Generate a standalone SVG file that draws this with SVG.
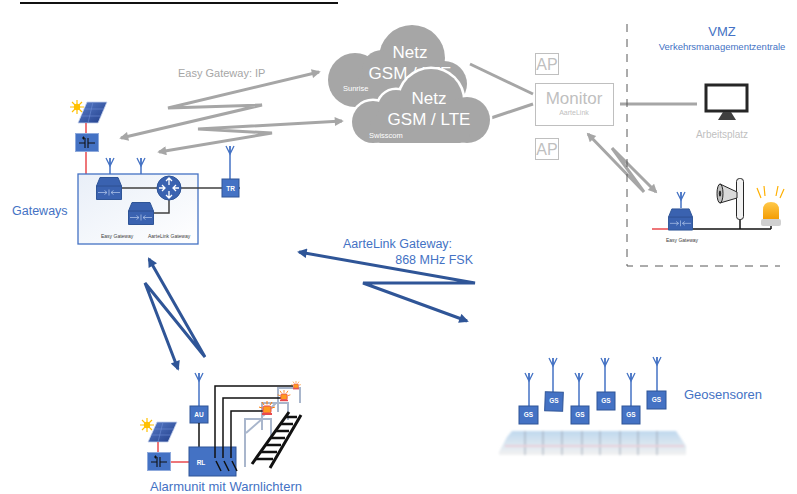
<svg xmlns="http://www.w3.org/2000/svg" xmlns:xlink="http://www.w3.org/1999/xlink" width="797" height="494" viewBox="0 0 797 494">
  <style>
    .lbl { font-family: "Liberation Sans", Arial, sans-serif; fill: #4472C4; }
    .gray { font-family: "Liberation Sans", Arial, sans-serif; fill: #A6A6A6; }
    .lgray { font-family: "Liberation Sans", Arial, sans-serif; fill: #BFBFBF; }
    .white { font-family: "Liberation Sans", Arial, sans-serif; fill: #FFFFFF; }
    .tiny { font-family: "Liberation Sans", Arial, sans-serif; fill: #404040; font-size: 5px; }
    .box { fill: #4472C4; stroke: #2F5597; stroke-width: 1; }
    .boxtxt { font-family: "Liberation Sans", Arial, sans-serif; fill: #FFFFFF; font-size: 6.5px; font-weight: bold; text-anchor: middle; }
    .stem { stroke: #4472C4; stroke-width: 1.5; fill: none; }
    .red { stroke: #E8484C; stroke-width: 1.5; fill: none; }
    .wire { stroke: #111111; stroke-width: 1.5; fill: none; }
    .gwire { stroke: #404040; stroke-width: 1.5; fill: none; }
    .gzig { stroke: #A6A6A6; stroke-width: 3; fill: none; stroke-linejoin: miter; }
    .bzig { stroke: #2F5597; stroke-width: 3; fill: none; stroke-linejoin: miter; }
    .gantry { stroke: #A9B6CC; stroke-width: 2; fill: none; }
    .cloud { fill: #A6A6A6; }
  </style>
  <defs>
    <marker id="ahGray" viewBox="0 0 10 10" refX="8" refY="5" markerWidth="3.6" markerHeight="3" orient="auto-start-reverse">
      <path d="M0,0 L10,5 L0,10 z" fill="#A6A6A6"/>
    </marker>
    <marker id="ahBlue" viewBox="0 0 10 10" refX="8" refY="5" markerWidth="4" markerHeight="3.2" orient="auto-start-reverse">
      <path d="M0,0 L10,5 L0,10 z" fill="#2F5597"/>
    </marker>
    <linearGradient id="gwBoxFill" x1="0" y1="0" x2="1" y2="1">
      <stop offset="0" stop-color="#E9EFF8"/>
      <stop offset="1" stop-color="#FFFFFF"/>
    </linearGradient>
    <linearGradient id="panel" x1="0" y1="0" x2="1" y2="1">
      <stop offset="0" stop-color="#5B7FCB"/>
      <stop offset="1" stop-color="#1F3C88"/>
    </linearGradient>
    <linearGradient id="beacon" x1="0" y1="0" x2="0" y2="1">
      <stop offset="0" stop-color="#FFC94A"/>
      <stop offset="1" stop-color="#F39A00"/>
    </linearGradient>
    <linearGradient id="ground" x1="0" y1="0" x2="0" y2="1">
      <stop offset="0" stop-color="#BFD8EE"/>
      <stop offset="1" stop-color="#F2F2F2"/>
    </linearGradient>
    <filter id="haze" x="-5%" y="-20%" width="110%" height="140%">
      <feGaussianBlur stdDeviation="1.2"/>
    </filter>
    <!-- gateway / modem device -->
    <symbol id="gw" viewBox="0 0 26 23">
      <path d="M4 0.5 H22 L25.5 9 V22.5 H0.5 V9 Z" fill="#3A62B0" stroke="#2F5597"/>
      <path d="M0.5 9 H25.5" stroke="#2B4C8C" stroke-width="0.8"/>
      <path d="M2 15.5 H11 M8.5 13.5 L11 15.5 L8.5 17.5 M24 15.5 H15 M17.5 13.5 L15 15.5 L17.5 17.5 M13 12.5 V18.5" stroke="#A9BFE6" fill="none" stroke-width="0.8"/>
    </symbol>
    <!-- antenna head, origin at the tip centre -->
    <path id="ant" d="M-4,0 L0,8 L4,0 M0,0 V8" fill="none" stroke="#4472C4" stroke-width="1.3"/>
    <!-- DC converter glyph -->
    <symbol id="conv" viewBox="0 0 24 19">
      <rect x="0.5" y="0.5" width="23" height="18" fill="#4472C4" stroke="#8FAADC"/>
      <path d="M4 10 H10 M10 5 V15 M13 5 V15 M13 10 H20 M7 5 H10 M8.5 3.5 V6.5" stroke="#111" stroke-width="1.1" fill="none"/>
    </symbol>
    <!-- sun -->
    <g id="sun">
      <circle r="3.2" fill="#FFC000"/>
      <path d="M0,-7 V7 M-7,0 H7 M-5,-5 L5,5 M-5,5 L5,-5" stroke="#FFC000" stroke-width="1.2"/>
    </g>
    <!-- small warning lamp -->
    <g id="lamp">
      <path d="M-3,-6 L-5,-9 M0,-6.5 V-10 M3,-6 L5,-9 M-5,-3 L-8,-4 M5,-3 L8,-4" stroke="#FF7A00" stroke-width="1"/>
      <rect x="-4" y="-5" width="8" height="7" rx="1.5" fill="#FF9A1F" stroke="#E8484C" stroke-width="1"/>
      <rect x="-5" y="2" width="10" height="2" fill="#E8484C"/>
    </g>
  </defs>

  <!-- heading rule -->
  <line x1="20" y1="3" x2="338" y2="3" stroke="#111" stroke-width="2"/>

  <!-- connectors -->
  <g id="connectors">
    <polyline class="gzig" points="121,138 262,105 168,108 319,72" marker-start="url(#ahGray)" marker-end="url(#ahGray)"/>
    <polyline class="gzig" points="159,152 272,133 198,129 342,121" marker-start="url(#ahGray)" marker-end="url(#ahGray)"/>
    <line x1="470" y1="64" x2="533" y2="94" stroke="#A6A6A6" stroke-width="3"/>
    <line x1="491" y1="118" x2="533" y2="104" stroke="#A6A6A6" stroke-width="3"/>
    <line x1="620" y1="104" x2="697" y2="104" stroke="#A6A6A6" stroke-width="3"/>
    <polyline class="gzig" points="588,134 644,192 612,148 656,192" marker-start="url(#ahGray)" marker-end="url(#ahGray)"/>
    <polyline class="bzig" points="299,252 475,283 363,283 467,321" marker-start="url(#ahBlue)" marker-end="url(#ahBlue)"/>
    <polyline class="bzig" points="149,259 205,357 145,283 178,369" marker-start="url(#ahBlue)" marker-end="url(#ahBlue)"/>
  </g>
  <text class="gray" x="178" y="77" font-size="11">Easy Gateway: IP</text>
  <text class="lbl" x="343" y="248" font-size="12.5" fill="#2F5597">AarteLink Gateway:</text>
  <text class="lbl" x="473" y="264" font-size="12.5" text-anchor="end">868 MHz FSK</text>

  <!-- gateway site -->
  <g id="gateways">
    <text class="lbl" x="12" y="215" font-size="12.5">Gateways</text>
    <!-- solar supply -->
    <path d="M78,123 L87,102 L107,102 L98,123 Z" fill="url(#panel)" stroke="#C5D2EE" stroke-width="0.8"/>
    <path d="M81,116 L101,116 M84,109 L104,109 M93,102 L88,123" stroke="#6F8FD6" stroke-width="0.6"/>
    <use href="#sun" x="77" y="107"/>
    <line class="red" x1="86" y1="123" x2="86" y2="133"/>
    <use href="#conv" x="75" y="133" width="24" height="19"/>
    <line class="red" x1="86" y1="152" x2="86" y2="174"/>
    <!-- enclosure -->
    <rect x="78" y="174" width="120" height="70" fill="url(#gwBoxFill)" stroke="#4472C4" stroke-width="1.3"/>
    <!-- antennas -->
    <line class="stem" x1="110" y1="158" x2="110" y2="174"/>
    <use href="#ant" x="110" y="158"/>
    <line class="stem" x1="141" y1="158" x2="141" y2="174"/>
    <use href="#ant" x="141" y="158"/>
    <line class="stem" x1="230" y1="146" x2="230" y2="179"/>
    <use href="#ant" x="230" y="146"/>
    <!-- internal wiring -->
    <path class="gwire" d="M122,188 H240 M169,200 V213 H154"/>
    <use href="#gw" x="96" y="177" width="26" height="23"/>
    <use href="#gw" x="128" y="202" width="26" height="23"/>
    <!-- router -->
    <circle cx="169" cy="188" r="12" fill="#3A62B0" stroke="#2F5597"/>
    <path d="M169,178 V185 M166,181 L169,178 L172,181 M169,198 V191 M166,195 L169,198 L172,195 M159,188 H165 M162,185 L165,188 L162,191 M179,188 H173 M176,185 L173,188 L176,191" stroke="#FFFFFF" stroke-width="1.3" fill="none"/>
    <!-- transceiver -->
    <rect class="box" x="222" y="179" width="17" height="18"/>
    <text class="boxtxt" x="230.5" y="190.5">TR</text>
    <text class="tiny" x="101" y="238">Easy Gateway</text>
    <text class="tiny" x="148" y="238">AarteLink Gateway</text>
  </g>

  <!-- mobile networks -->
  <g id="cloud-sunrise">
    <g class="cloud">
      <circle cx="355" cy="80" r="27"/>
      <circle cx="412" cy="58" r="33"/>
      <circle cx="444" cy="84" r="23"/>
      <circle cx="382" cy="70" r="20"/>
      <rect x="352" y="78" width="95" height="30" rx="10"/>
    </g>
    <text class="white" x="410" y="58" font-size="17" text-anchor="middle">Netz</text>
    <text class="white" x="410" y="79" font-size="17" text-anchor="middle">GSM / LTE</text>
    <text class="white" x="343" y="91" font-size="7.5">Sunrise</text>
  </g>
  <g id="cloud-swisscom">
    <g fill="#FFFFFF" stroke="#FFFFFF" stroke-width="5">
      <circle cx="373" cy="122" r="21"/>
      <circle cx="396" cy="108" r="18"/>
      <circle cx="431" cy="101" r="32"/>
      <circle cx="467" cy="120" r="23"/>
      <rect x="370" y="115" width="100" height="28" rx="10"/>
    </g>
    <g class="cloud">
      <circle cx="373" cy="122" r="21"/>
      <circle cx="396" cy="108" r="18"/>
      <circle cx="431" cy="101" r="32"/>
      <circle cx="467" cy="120" r="23"/>
      <rect x="370" y="115" width="100" height="28" rx="10"/>
    </g>
    <text class="white" x="429" y="104" font-size="17" text-anchor="middle">Netz</text>
    <text class="white" x="429" y="125" font-size="17" text-anchor="middle">GSM / LTE</text>
    <text class="white" x="369" y="138" font-size="7.5">Swisscom</text>
  </g>

  <!-- monitoring server -->
  <g id="ap-top">
    <rect x="535.5" y="53.5" width="23" height="21" fill="none" stroke="#BFBFBF"/>
    <text class="lgray" x="547" y="70" font-size="16" text-anchor="middle">AP</text>
  </g>
  <g id="monitor">
    <rect x="535.5" y="83.5" width="78" height="42" fill="#FFFFFF" stroke="#BFBFBF"/>
    <text class="lgray" x="574" y="104" font-size="17" text-anchor="middle">Monitor</text>
    <text class="lgray" x="574" y="115" font-size="7" text-anchor="middle">AarteLink</text>
  </g>
  <g id="ap-bottom">
    <rect x="535.5" y="138.5" width="23" height="21" fill="none" stroke="#BFBFBF"/>
    <text class="lgray" x="547" y="155" font-size="16" text-anchor="middle">AP</text>
  </g>

  <!-- traffic management centre -->
  <g id="vmz">
    <path d="M627,24 V266 H780" fill="none" stroke="#595959" stroke-width="1" stroke-dasharray="8,7"/>
    <text class="lbl" x="722" y="36" font-size="13" text-anchor="middle">VMZ</text>
    <text class="lbl" x="722" y="50" font-size="9.5" text-anchor="middle">Verkehrsmanagementzentrale</text>
  </g>
  <g id="arbeitsplatz">
    <rect x="706" y="85" width="41" height="26" fill="#FFFFFF" stroke="#262626" stroke-width="3"/>
    <path d="M723,112 H731 L736,120 H718 Z" fill="#404040"/>
    <text class="lgray" x="722" y="138" font-size="10" text-anchor="middle">Arbeitsplatz</text>
  </g>
  <g id="vmz-gateway">
    <line class="red" x1="652" y1="229" x2="668" y2="229"/>
    <line class="wire" x1="693" y1="229" x2="771" y2="229"/>
    <line class="wire" x1="771" y1="229" x2="771" y2="226"/>
    <line class="wire" x1="740" y1="229" x2="740" y2="219"/>
    <line class="stem" x1="681" y1="192" x2="681" y2="208"/>
    <use href="#ant" x="681" y="192"/>
    <use href="#gw" x="668" y="208" width="25" height="23"/>
    <text class="tiny" x="682" y="242" text-anchor="middle">Easy Gateway</text>
  </g>
  <g id="horn">
    <rect x="736.5" y="178.5" width="7" height="41" rx="3" fill="#F2F2F2" stroke="#262626"/>
    <path d="M720,184 L737,192 L737,198 L720,203 Z" fill="#D9D9D9" stroke="#262626"/>
    <ellipse cx="720" cy="193.5" rx="3" ry="9.5" fill="#BFBFBF" stroke="#262626"/>
    <ellipse cx="720" cy="193.5" rx="1.2" ry="3" fill="#262626"/>
  </g>
  <g id="beacon">
    <path d="M761,198 L757,188 M765,196 L764,186 M776,196 L778,186 M780,198 L784,189" stroke="#FFB000" stroke-width="1.2"/>
    <path d="M763,220 V210 Q763,202 771,202 Q779,202 779,210 V220 Z" fill="url(#beacon)"/>
    <rect x="761" y="219" width="20" height="7" rx="2" fill="#D0D0D0"/>
  </g>

  <!-- alarm unit with warning lights -->
  <g id="alarmunit">
    <!-- gantries along the track -->
    <path class="gantry" d="M245,467 V419 H271 V438 M246,433 L262,419"/>
    <path class="gantry" d="M262,430 V403 H288 V420 M263,416 L276,403"/>
    <path class="gantry" d="M278,412 V388 H300 V403"/>
    <!-- track -->
    <g stroke="#111" fill="none">
      <path d="M252,464 L289,412 M270,468 L301,415" stroke-width="3"/>
      <path d="M256,459 H273 M261,452 H277 M266,445 H281 M271,438 H285 M276,431 H289 M280,424 H293 M285,417 H297" stroke-width="2.5"/>
    </g>
    <!-- power supply -->
    <path d="M148,442 L157,422 L177,422 L168,442 Z" fill="url(#panel)" stroke="#C5D2EE" stroke-width="0.8"/>
    <path d="M151,435 L171,435 M154,429 L174,429 M163,422 L158,442" stroke="#6F8FD6" stroke-width="0.6"/>
    <use href="#sun" x="147" y="425"/>
    <line class="red" x1="158" y1="442" x2="158" y2="452"/>
    <use href="#conv" x="147" y="452" width="24" height="19"/>
    <line class="red" x1="171" y1="462" x2="189" y2="462"/>
    <!-- radio unit -->
    <line class="stem" x1="199" y1="373" x2="199" y2="406"/>
    <use href="#ant" x="199" y="373"/>
    <rect class="box" x="190" y="406" width="18" height="17"/>
    <text class="boxtxt" x="199" y="417">AU</text>
    <line class="wire" x1="199" y1="423" x2="199" y2="447"/>
    <!-- relay unit -->
    <rect class="box" x="189" y="447" width="47" height="29"/>
    <text class="boxtxt" x="201" y="465">RL</text>
    <path class="wire" d="M215,458 V386 H293 M223,458 V398 H282 M231,458 V411 H265"/>
    <path class="wire" d="M216,461 L221,471 M224,461 L229,471 M232,461 L237,471"/>
    <!-- warning lights -->
    <use href="#lamp" transform="translate(296,387) scale(0.6)"/>
    <use href="#lamp" transform="translate(284,398) scale(0.8)"/>
    <use href="#lamp" transform="translate(267,411)"/>
    <text class="lbl" x="226" y="491" font-size="13" text-anchor="middle">Alarmunit mit Warnlichtern</text>
  </g>

  <!-- geosensors -->
  <g id="geosensoren">
    <g filter="url(#haze)">
      <path d="M499,452 L507,437 L512,431 H676 L686,446 L686,455 H499 Z" fill="url(#ground)"/>
      <path d="M525,431 V455 M543,431 V455 M562,431 V455 M582,431 V455 M600,431 V455 M620,431 V455 M638,431 V455 M657,431 V455" stroke="#9AA5B5" stroke-width="1"/>
      <path d="M505,446 H684" stroke="#E7D0DA" stroke-width="2"/>
    </g>
    <g>
      <line class="stem" x1="529" y1="373" x2="529" y2="406"/>
      <use href="#ant" x="529" y="373"/>
      <rect class="box" x="519" y="406" width="19" height="18"/>
      <text class="boxtxt" x="528.5" y="417">GS</text>
    </g>
    <g>
      <line class="stem" x1="553" y1="358" x2="553" y2="392"/>
      <use href="#ant" x="553" y="358"/>
      <rect class="box" x="545" y="392" width="18" height="19" transform="rotate(2 554 401)"/>
      <text class="boxtxt" x="554" y="403">GS</text>
    </g>
    <g>
      <line class="stem" x1="579" y1="373" x2="579" y2="406"/>
      <use href="#ant" x="579" y="373"/>
      <rect class="box" x="571" y="406" width="18" height="18"/>
      <text class="boxtxt" x="580" y="417">GS</text>
    </g>
    <g>
      <line class="stem" x1="605" y1="358" x2="605" y2="392"/>
      <use href="#ant" x="605" y="358"/>
      <rect class="box" x="597" y="392" width="18" height="18"/>
      <text class="boxtxt" x="606" y="403">GS</text>
    </g>
    <g>
      <line class="stem" x1="631" y1="373" x2="631" y2="406"/>
      <use href="#ant" x="631" y="373"/>
      <rect class="box" x="622" y="406" width="18" height="18"/>
      <text class="boxtxt" x="631" y="417">GS</text>
    </g>
    <g>
      <line class="stem" x1="657" y1="357" x2="657" y2="391"/>
      <use href="#ant" x="657" y="357"/>
      <rect class="box" x="647" y="391" width="19" height="18"/>
      <text class="boxtxt" x="656.5" y="402">GS</text>
    </g>
    <text class="lbl" x="684" y="399" font-size="13">Geosensoren</text>
  </g>
</svg>
